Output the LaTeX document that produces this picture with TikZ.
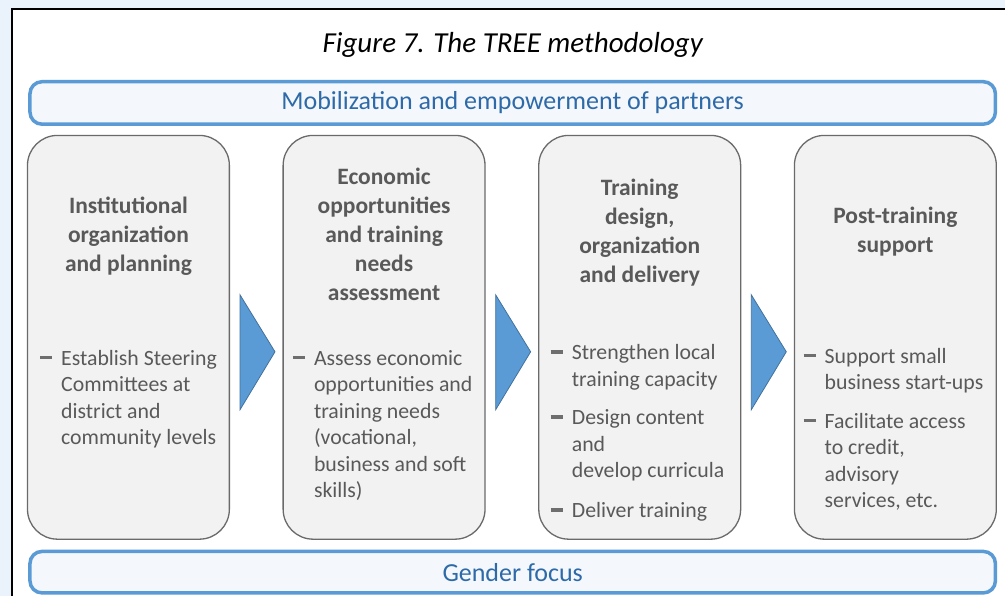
\documentclass[tikz,border=0pt]{standalone}
\usepackage{fontspec}
\setmainfont{Carlito}
\usepackage{xcolor}
\usetikzlibrary{positioning}

\definecolor{pagebg}{HTML}{EAF2FB}
\definecolor{bandblue}{HTML}{5B9BD5}
\definecolor{bandfill}{HTML}{F4F8FD}
\definecolor{bandtext}{HTML}{2E6AA8}
\definecolor{boxgray}{HTML}{F2F2F2}
\definecolor{boxline}{HTML}{6A6A6A}
\definecolor{textgray}{HTML}{595959}
\definecolor{dashgray}{HTML}{6E6E6E}
\definecolor{chevline}{HTML}{41719C}

\newcommand{\dashbullet}{\llap{\textcolor{dashgray}{\rule[0.28em]{0.55em}{0.16em}}\hspace{0.42em}}}

\begin{document}
\begin{tikzpicture}[
    x=1pt, y=-1pt,
    node distance=52.5pt,
    band/.style={draw=bandblue, line width=3.5pt, fill=bandfill, rounded corners=12pt, minimum width=966pt, text=bandtext, font=\fontsize{26}{30}\selectfont},
    stage/.style={draw=boxline, line width=1.3pt, fill=boxgray, rounded corners=30pt, minimum width=202pt, minimum height=404pt},
    heading/.style={align=center, text=textgray, font=\fontsize{23.5}{29}\selectfont\bfseries, inner sep=0pt},
    points/.style={align=left, text=textgray, font=\fontsize{21.8}{26.5}\selectfont, inner sep=0pt, anchor=base west},
    chevron/.style={fill=bandblue, draw=chevline, line width=0.8pt}
]
    % page
    \fill[pagebg] (0,0) rectangle (1006,596);
    \fill[white] (12,9) rectangle (1006,596);
    \draw[line width=1.2pt] (12,596) -- (12,9) -- (1006,9);

    % caption
    \node[font=\fontsize{29}{33}\selectfont\itshape] (caption) at (513,45) {Figure 7. The TREE methodology};

    % bands
    \node[band, minimum height=42.5pt] (mobil) at (513,103) {Mobilization and empowerment of partners};
    \node[band, minimum height=41.5pt] (gender) at (513,572.5) {Gender focus};

    % stages
    \node[stage] (plan) at (128.5,337.5) {};
    \node[stage, right=of plan] (assess) {};
    \node[stage, right=of assess] (deliver) {};
    \node[stage, right=of deliver] (support) {};

    % chevrons
    \foreach \s in {plan, assess, deliver}
        \filldraw[chevron] ([xshift=10pt, yshift=42.5pt]\s.east) -- ++(35,57) -- ++(-35,58) -- cycle;

    % headings
    \node[heading, below=62pt of plan.north] (planhead) {Institutional\\organization\\and planning};
    \node[heading, below=33pt of assess.north] (assesshead) {Economic\\opportunities\\and training\\needs\\assessment};
    \node[heading, below=44pt of deliver.north] (deliverhead) {Training\\design,\\organization\\and delivery};
    \node[heading, below=72pt of support.north] (supporthead) {Post-training\\support};

    % bullet points (anchored on the last line)
    \node[points] (plantext) at (61,445) {\dashbullet Establish Steering\\Committees at\\district and\\community levels};
    \node[points] (assesstext) at (314,498) {\dashbullet Assess economic\\opportunities and\\training needs\\(vocational,\\business and soft\\skills)};
    \node[points] (delivertext) at (572,518) {\dashbullet Strengthen local\\training capacity\\[12pt]\dashbullet Design content\\and\\develop curricula\\[13.5pt]\dashbullet Deliver training};
    \node[points] (supporttext) at (825,508) {\dashbullet Support small\\business start-ups\\[12pt]\dashbullet Facilitate access\\to credit,\\advisory\\services, etc.};
\end{tikzpicture}
\end{document}
